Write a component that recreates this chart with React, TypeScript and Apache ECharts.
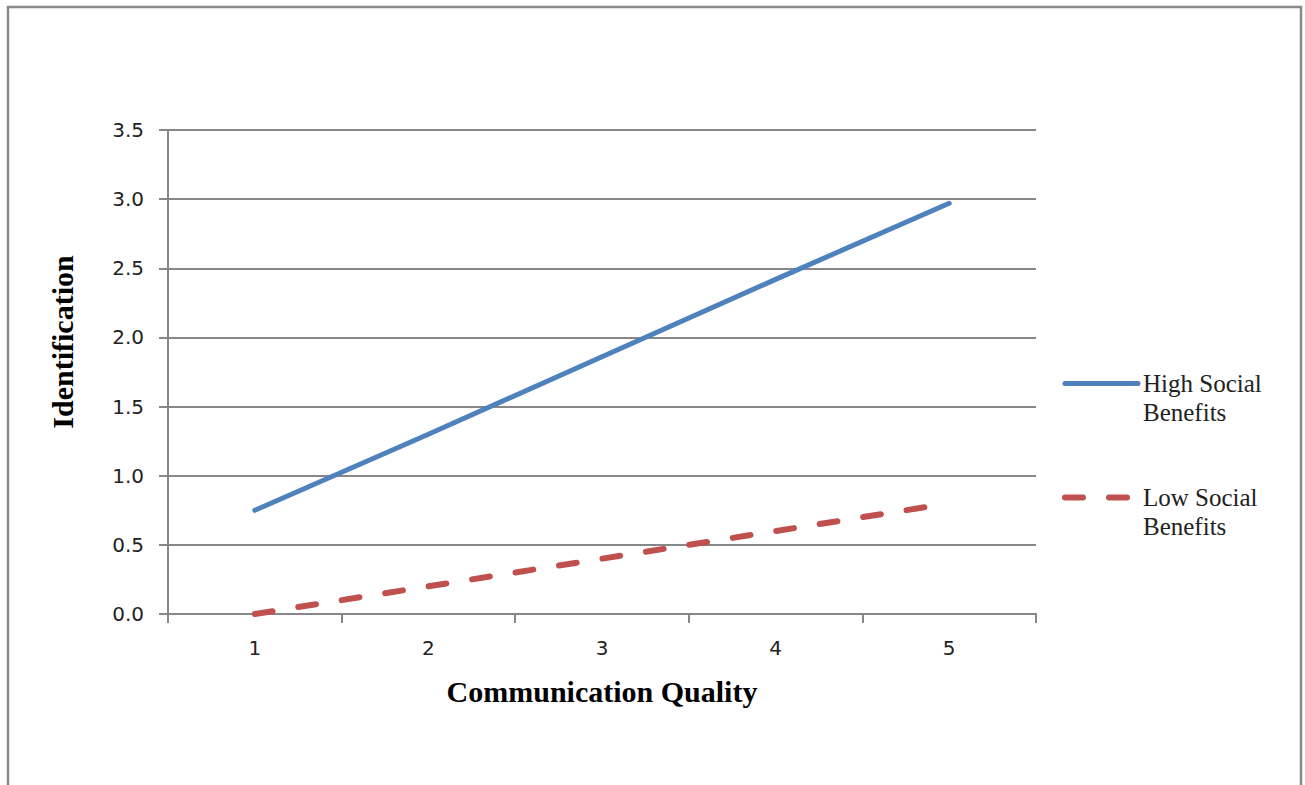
import React, { useEffect, useRef } from "react";
import * as echarts from "echarts";

const categories = ["1", "2", "3", "4", "5"];
const highSocial = [0.75, 1.3, 1.86, 2.42, 2.97];
const lowSocial = [0.0, 0.2, 0.4, 0.6, 0.8];
const seriesNames = ["High Social Benefits", "Low Social Benefits"];

export default function App() {
  const ref = useRef<HTMLDivElement>(null);
  useEffect(() => {
    if (!ref.current) return;
    const chart = echarts.init(ref.current, undefined, { renderer: "svg" });
    const gray = "#878787";
    const blue = "#4F81BD";
    const red = "#C0504D";
    const dash = [18, 26];
    chart.setOption({
      animation: false,
      backgroundColor: "#ffffff",
      graphic: [
        {
          type: "rect",
          shape: { x: 8, y: 7, width: 1293, height: 820 },
          style: { fill: "none", stroke: "#8a8a8a", lineWidth: 2.5 },
          silent: true,
        },
      ],
      grid: { left: 168, right: 269, top: 130, bottom: 171 },
      legend: {
        orient: "vertical",
        left: 1057,
        top: 335,
        itemWidth: 73,
        itemHeight: 14,
        itemGap: 27,
        itemStyle: { opacity: 0 },
        data: [
          { name: seriesNames[0], lineStyle: { color: blue, width: 5, cap: "round" } },
          { name: seriesNames[1], lineStyle: { color: red, width: 6, type: dash, cap: "round" } },
        ],
        formatter: (n: string) => "\n" + n.replace(" Benefits", "\nBenefits"),
        textStyle: {
          fontFamily: "Liberation Serif",
          fontSize: 25,
          color: "#222",
          lineHeight: 29,
        },
      },
      xAxis: {
        type: "category",
        data: categories,
        boundaryGap: true,
        name: "Communication Quality",
        nameLocation: "middle",
        nameGap: 62,
        nameTextStyle: {
          fontFamily: "Liberation Serif",
          fontWeight: "bold",
          fontSize: 30,
          color: "#000",
        },
        axisLine: { lineStyle: { color: gray, width: 2 } },
        axisTick: { show: true, length: 9, lineStyle: { color: gray, width: 2 } },
        axisLabel: {
          fontFamily: "DejaVu Sans",
          fontSize: 20,
          color: "#222",
          margin: 24,
        },
      },
      yAxis: {
        type: "value",
        min: 0,
        max: 3.5,
        interval: 0.5,
        name: "Identification",
        nameLocation: "middle",
        nameGap: 91,
        nameTextStyle: {
          fontFamily: "Liberation Serif",
          fontWeight: "bold",
          fontSize: 30,
          color: "#000",
          padding: [0, 0, 0, 60],
        },
        axisLine: { show: true, lineStyle: { color: gray, width: 2 } },
        axisTick: { show: true, length: 9, lineStyle: { color: gray, width: 2 } },
        splitLine: { show: true, lineStyle: { color: gray, width: 2 } },
        axisLabel: {
          fontFamily: "DejaVu Sans",
          fontSize: 20,
          color: "#222",
          margin: 24,
          formatter: (v: number) => v.toFixed(1),
        },
      },
      series: [
        {
          name: seriesNames[0],
          type: "line",
          data: highSocial,
          symbol: "none",
          lineStyle: { color: blue, width: 5, cap: "round" },
          itemStyle: { color: blue },
        },
        {
          name: seriesNames[1],
          type: "line",
          data: lowSocial,
          symbol: "none",
          lineStyle: { color: red, width: 6, type: dash, cap: "round" },
          itemStyle: { color: red },
        },
      ],
    });
    return () => chart.dispose();
  }, []);
  return (
    <div
      ref={ref}
      style={{ position: "absolute", left: 0, top: 0, width: 1305, height: 785 }}
    />
  );
}
